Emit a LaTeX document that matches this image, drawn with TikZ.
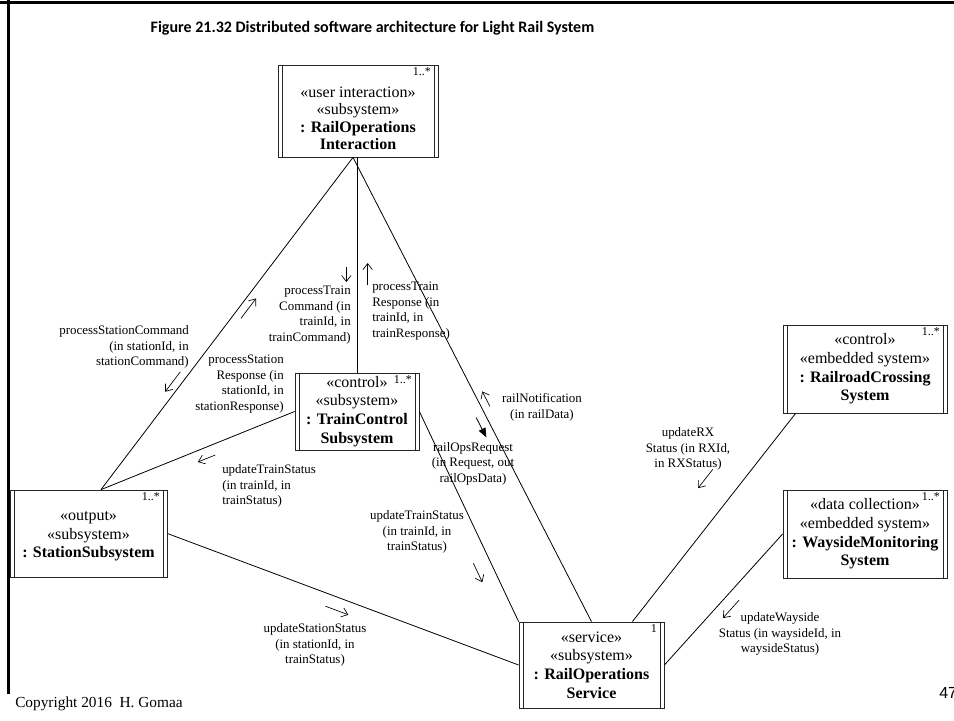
\documentclass[tikz,border=0pt]{standalone}
\usepackage{fontspec}
\setmainfont{Liberation Serif}
\newfontfamily\capfont{Carlito}
\newfontfamily\numfont{Liberation Sans}
\usetikzlibrary{arrows.meta,calc}

\tikzset{
  subsys/.style={draw=black!85, line width=0.6pt, fill=white, align=center,
    inner sep=1pt, font=\fontsize{12}{14}\selectfont,
    path picture={
      \draw[black!85, line width=0.6pt]
        ([xshift=3pt]path picture bounding box.north west) -- ([xshift=3pt]path picture bounding box.south west)
        ([xshift=-3pt]path picture bounding box.north east) -- ([xshift=-3pt]path picture bounding box.south east);
    }},
  mult/.style={label={[anchor=north east, xshift=-4.5pt, yshift=-1pt, inner sep=1pt,
    font=\fontsize{9}{10}\selectfont]north east:#1}},
  link/.style={line width=0.6pt},
  msglbl/.style={inner sep=0pt, font=\fontsize{9.7}{11.6}\selectfont},
  msg/.style={line width=0.5pt, -{Straight Barb[length=4.5pt,width=7pt]}},
  syncmsg/.style={line width=0.6pt, -{Triangle[length=7pt,width=5.5pt]}},
}

\begin{document}
\begin{tikzpicture}[x=0.75pt, y=-0.75pt]
\useasboundingbox (0,0) rectangle (954,721);

% slide frame
\draw[line width=2.25pt] (0,2) -- (954,2);
\draw[line width=2.25pt] (8,0) -- (8,694);

\node[font=\capfont\bfseries\fontsize{12}{14}\selectfont, anchor=west] (title) at (146,28)
  {Figure 21.32 Distributed software architecture for Light Rail System};

% subsystems
\node[subsys, font=\fontsize{12}{13}\selectfont, minimum width=120pt, minimum height=69pt, mult=1..*] (inter) at (358,111)
  {\rule{0pt}{19pt}«user interaction»\\«subsystem»\\\textbf{: RailOperations}\\\textbf{Interaction}};
\node[subsys, minimum width=93pt, minimum height=57.75pt, mult=1..*] (train) at (357,411.5)
  {«control»\\«subsystem»\\\textbf{: TrainControl}\\\textbf{Subsystem}};
\node[subsys, minimum width=117.75pt, minimum height=65.25pt, mult=1..*] (station) at (88.5,533.5)
  {\rule{0pt}{11pt}«output»\\«subsystem»\\\textbf{: StationSubsystem}};
\node[subsys, minimum width=123pt, minimum height=66pt, mult=1..*] (crossing) at (865,369)
  {«control»\\«embedded system»\\\textbf{: RailroadCrossing}\\\textbf{System}};
\node[subsys, minimum width=123pt, minimum height=66pt, mult=1..*] (wayside) at (865,534)
  {«data collection»\\«embedded system»\\\textbf{: WaysideMonitoring}\\\textbf{System}};
\node[subsys, minimum width=108.75pt, minimum height=64.5pt, mult=1] (service) at (591.5,665)
  {«service»\\«subsystem»\\\textbf{: RailOperations}\\\textbf{Service}};

% connector ends
\coordinate (inBot) at ($(inter.south)+(-5,0)$);
\coordinate (inMid) at (train.north |- inter.south);
\coordinate (stTop) at ($(station.north)+(12.5,0)$);
\coordinate (crFoot) at ($(crossing.south west)+(13,0)$);
\coordinate (svTop) at ($(service.north east)+(-32,0)$);
\coordinate (svCorner) at (service.north west);

\draw[link] (inBot) -- (stTop);
\draw[link] (inMid) -- (train.north);
\draw[link] (inBot) -- (service.north);
\draw[link] (train.west) -- (stTop);
\draw[link] (train.east) -- (svCorner);
\draw[link] (station.east) -- (service.west);
\draw[link] (crFoot) -- (svTop);
\draw[link] (wayside.west) -- (service.east);

% messages
\draw[msg] ($(inBot)!0.66!(stTop)!6pt!-90:(stTop)$) -- ($(inBot)!0.72!(stTop)!6pt!-90:(stTop)$);
\draw[msg] ($(inBot)!0.47!(stTop)!6pt!90:(stTop)$) -- ($(inBot)!0.41!(stTop)!6pt!90:(stTop)$);
\draw[msg] ($(inMid)!0.509!(train.north)!8pt!-90:(train.north)$) -- ($(inMid)!0.579!(train.north)!8pt!-90:(train.north)$);
\draw[msg] ($(inMid)!0.593!(train.north)!8pt!90:(train.north)$) -- ($(inMid)!0.491!(train.north)!8pt!90:(train.north)$);
\draw[msg] ($(inBot)!0.544!(service.north)!6pt!90:(service.north)$) -- ($(inBot)!0.512!(service.north)!6pt!90:(service.north)$);
\draw[syncmsg] ($(inBot)!0.551!(service.north)!7pt!-90:(service.north)$) -- ($(inBot)!0.594!(service.north)!7pt!-90:(service.north)$);
\draw[msg] ($(train.west)!0.43!(stTop)!8pt!90:(stTop)$) -- ($(train.west)!0.52!(stTop)!8pt!90:(stTop)$);
\draw[msg] ($(train.east)!0.69!(svCorner)!12pt!-90:(svCorner)$) -- ($(train.east)!0.78!(svCorner)!12pt!-90:(svCorner)$);
\draw[msg] ($(station.east)!0.463!(service.west)!9.5pt!-90:(service.west)$) -- ($(station.east)!0.528!(service.west)!9.5pt!-90:(service.west)$);
\draw[msg] ($(crFoot)!0.36!(svTop)!23pt!-90:(svTop)$) -- ($(crFoot)!0.45!(svTop)!23pt!-90:(svTop)$);
\draw[msg] ($(wayside.west)!0.443!(service.east)!9pt!90:(service.east)$) -- ($(wayside.west)!0.58!(service.east)!9pt!90:(service.east)$);

\node[msglbl, align=right, anchor=east] (lStCmd) at (189,347) {processStationCommand\\(in stationId, in\\stationCommand)};
\node[msglbl, align=right, anchor=east] (lStResp) at (284,384) {processStation\\Response (in\\stationId, in\\stationResponse)};
\node[msglbl, align=right, anchor=east] (lTrCmd) at (351,315) {processTrain\\Command (in\\trainId, in\\trainCommand)};
\node[msglbl, align=left, anchor=west] (lTrResp) at (372,311) {processTrain\\Response (in\\trainId, in\\trainResponse)};
\node[msglbl, align=center] (lRailNot) at (542,407.5) {railNotification\\(in railData)};
\node[msglbl, align=center] (lOpsReq) at (473,463.5) {railOpsRequest\\(in Request, out\\railOpsData)};
\node[msglbl, align=left, anchor=west] (lTrSt1) at (222,486) {updateTrainStatus\\(in trainId, in\\trainStatus)};
\node[msglbl, align=center] (lTrSt2) at (417,532) {updateTrainStatus\\(in trainId, in\\trainStatus)};
\node[msglbl, align=center] (lStSt) at (315,645) {updateStationStatus\\(in stationId, in\\trainStatus)};
\node[msglbl, align=center] (lRX) at (688,449) {updateRX\\Status (in RXId,\\in RXStatus)};
\node[msglbl, align=center] (lWay) at (780,634) {updateWayside\\Status (in waysideId, in\\waysideStatus)};

\node[font=\fontsize{11.5}{13}\selectfont, anchor=base west, inner sep=0pt] (credit) at (15,707) {Copyright 2016\ \ H. Gomaa};
\node[font=\numfont\fontsize{12}{14}\selectfont, anchor=base west, inner sep=0pt] (pageno) at (939,698) {47};
\end{tikzpicture}
\end{document}
